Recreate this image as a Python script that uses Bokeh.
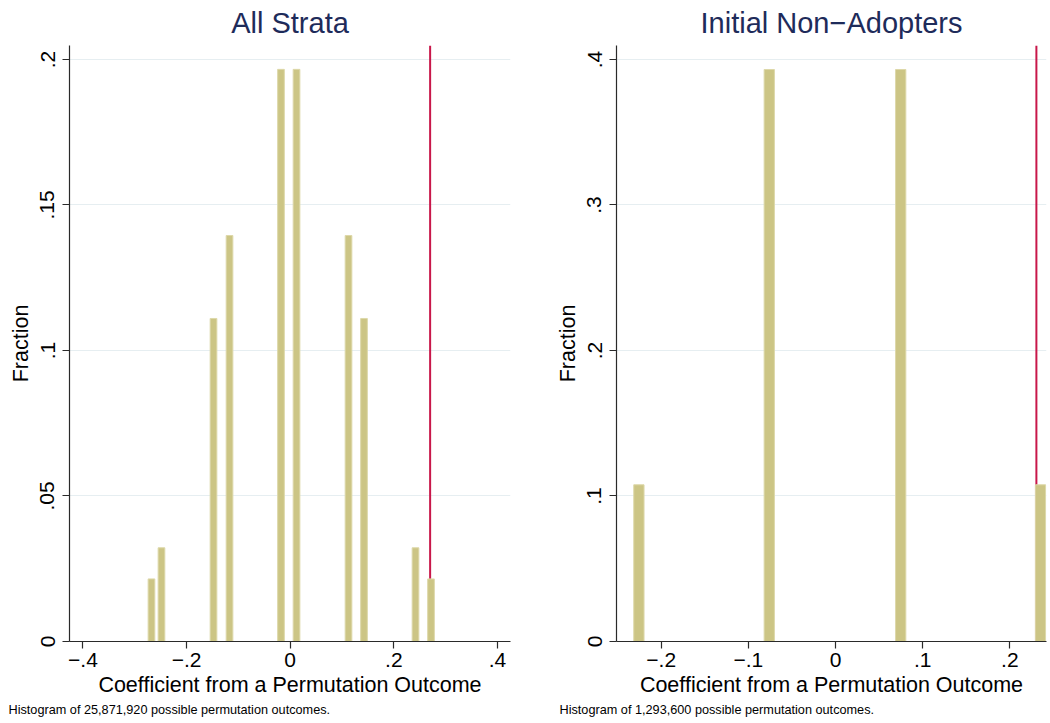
from bokeh.plotting import figure
from bokeh.models import Span, FixedTicker, Range1d, Title
from bokeh.layouts import row
from bokeh.embed import file_html
from bokeh.resources import INLINE

# ---------------- data ----------------
all_coef = [-0.2677, -0.2484, -0.1480, -0.1171, -0.0178, 0.0122, 0.1125, 0.1424, 0.2418, 0.2717]
all_frac = [0.0215, 0.0322, 0.1110, 0.1395, 0.1966, 0.1966, 0.1395, 0.1110, 0.0322, 0.0215]
all_observed = 0.2700

non_coef = [-0.2256, -0.0760, 0.0748, 0.2352]
non_frac = [0.1077, 0.3931, 0.3931, 0.1077]
non_observed = 0.2305

all_xticks = [-0.4, -0.2, 0, 0.2, 0.4]
all_xlabels = ["−.4", "−.2", "0", ".2", ".4"]
all_yticks = [0, 0.05, 0.1, 0.15, 0.2]
all_ylabels = ["0", ".05", ".1", ".15", ".2"]

non_xticks = [-0.2, -0.1, 0, 0.1, 0.2]
non_xlabels = ["−.2", "−.1", "0", ".1", ".2"]
non_yticks = [0, 0.1, 0.2, 0.3, 0.4]
non_ylabels = ["0", ".1", ".2", ".3", ".4"]

titles = ["All Strata", "Initial Non−Adopters"]
notes = ["Histogram of 25,871,920 possible permutation outcomes.",
         "Histogram of 1,293,600 possible permutation outcomes."]
x_title = "Coefficient from a Permutation Outcome"
y_title = "Fraction"

# ---------------- style ----------------
FONT = "Liberation Sans"
BAR_FILL = "#CCC585"
BAR_LINE = "#DDD8A9"
RED = "#C8174A"
GRID = "#E6EEF1"
AXIS = "#2A2A2A"
TITLE_COL = "#1E2B5A"

HEIGHT = 723
B_TOP = 45
B_BOTTOM = 82


def make_panel(coef, frac, obs, xticks, xlabels, yticks, ylabels, title, note,
               xr, yr, bar_w, width, b_left, b_right, note_offset):
    p = figure(width=width, height=HEIGHT, output_backend="svg", toolbar_location=None,
               x_range=Range1d(*xr), y_range=Range1d(*yr),
               min_border_left=b_left, min_border_right=b_right,
               min_border_top=B_TOP, min_border_bottom=B_BOTTOM)
    p.outline_line_color = None
    p.background_fill_color = "white"
    p.border_fill_color = "white"

    p.title.text = title
    p.title.align = "center"
    p.title.vertical_align = "top"
    p.title.text_font = FONT
    p.title.text_font_size = "29px"
    p.title.text_font_style = "normal"
    p.title.text_color = TITLE_COL
    p.title.standoff = 10

    p.add_layout(Span(location=obs, dimension="height", line_color=RED,
                      line_width=2, level="underlay"))
    p.vbar(x=coef, top=frac, width=bar_w, bottom=0,
           fill_color=BAR_FILL, line_color=BAR_LINE, line_width=1)

    p.xgrid.visible = False
    p.ygrid.grid_line_color = GRID
    p.ygrid.grid_line_width = 1.2
    p.ygrid.ticker = FixedTicker(ticks=yticks)

    p.xaxis.ticker = FixedTicker(ticks=xticks)
    p.yaxis.ticker = FixedTicker(ticks=yticks)
    p.xaxis.major_label_overrides = {t: l for t, l in zip(xticks, xlabels)}
    p.yaxis.major_label_overrides = {t: l for t, l in zip(yticks, ylabels)}
    for ax in (p.xaxis, p.yaxis):
        ax.axis_line_color = AXIS
        ax.axis_line_width = 1.2
        ax.major_tick_line_color = AXIS
        ax.major_tick_line_width = 1.2
        ax.major_tick_out = 7
        ax.major_tick_in = 0
        ax.minor_tick_line_color = None
        ax.major_label_text_font = FONT
        ax.major_label_text_font_size = "21px"
        ax.major_label_text_color = "black"
        ax.axis_label_text_font = FONT
        ax.axis_label_text_font_size = "21.5px"
        ax.axis_label_text_font_style = "normal"
        ax.axis_label_text_color = "black"
    p.xaxis.major_label_standoff = 4
    p.yaxis.major_label_standoff = 8
    p.yaxis.major_label_orientation = "vertical"
    p.xaxis.axis_label = x_title
    p.yaxis.axis_label = y_title
    p.xaxis.axis_label_standoff = 3
    p.yaxis.axis_label_standoff = 5

    nt = Title(text=note, align="left", text_font=FONT, text_font_size="12.7px",
               text_font_style="normal", text_color="black",
               offset=note_offset, standoff=2)
    p.add_layout(nt, "below")
    return p


p1 = make_panel(all_coef, all_frac, all_observed, all_xticks, all_xlabels,
                all_yticks, all_ylabels, titles[0], notes[0],
                (-0.4259, 0.4251), (0, 0.2048), 0.0129,
                548, 69, 38, -61)
p2 = make_panel(non_coef, non_frac, non_observed, non_xticks, non_xlabels,
                non_yticks, non_ylabels, titles[1], notes[1],
                (-0.2513, 0.2421), (0, 0.4096), 0.0118,
                502, 68, 4, -57)

layout = row(p1, p2)
open("out.html", "w").write(file_html(layout, INLINE))
